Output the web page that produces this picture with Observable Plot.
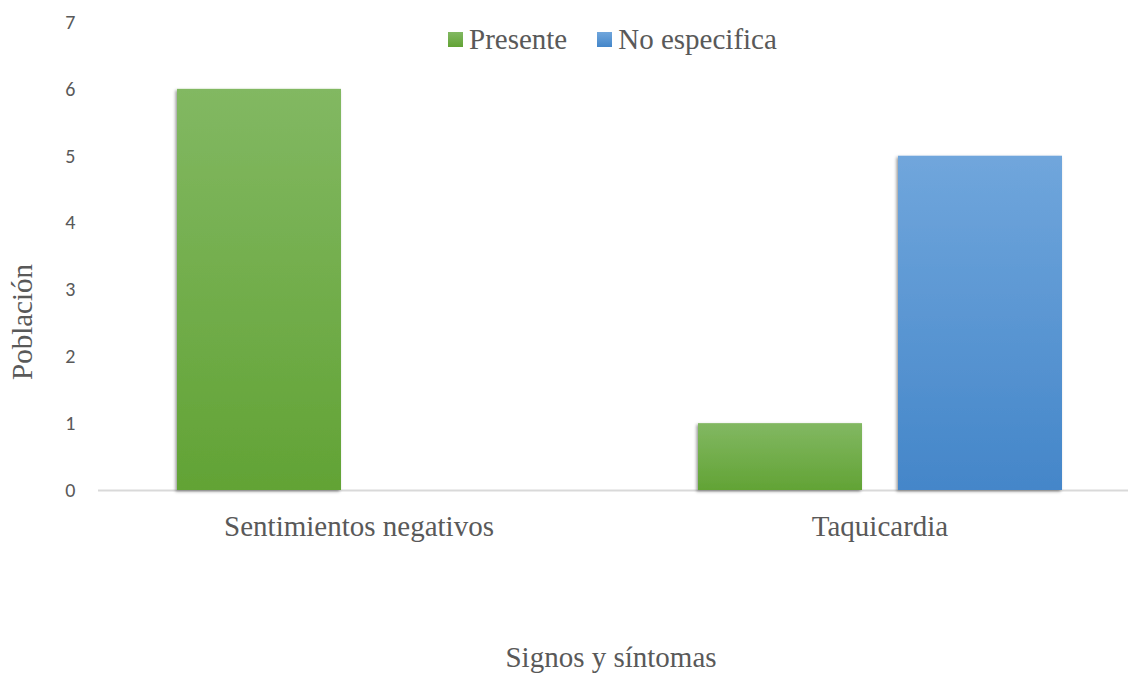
<!DOCTYPE html>
<html>
<head>
<meta charset="utf-8">
<script src="https://cdn.jsdelivr.net/npm/d3@7"></script>
<script src="https://cdn.jsdelivr.net/npm/@observablehq/plot@0.6"></script>
<style>
  body { margin: 0; background: #fff; }
  #wrap { position: relative; width: 1128px; height: 675px; overflow: hidden; background: #fff; }
  .serif { font-family: "Liberation Serif", "Times New Roman", serif; color: #595959; font-size: 29px; line-height: 29px; white-space: nowrap; }
  #legend { position: absolute; left: 448px; top: 25px; display: flex; align-items: center; }
  #legend .sw { width: 15px; height: 15px; margin-right: 6px; }
  #legend .item { display: flex; align-items: center; margin-right: 30px; }
  #ylabel { position: absolute; left: 22px; top: 322px; transform: translate(-50%, -50%) rotate(-90deg); }
  #xlabel { position: absolute; left: 611px; top: 643px; transform: translateX(-50%); }
  svg { position: absolute; left: 0; top: 0; }
</style>
</head>
<body>
<div id="wrap"></div>
<script>
// ---- data ----
const categories = ["Sentimientos negativos", "Taquicardia"];
const series = ["Presente", "No especifica"];
const presente = [6, 1];
const noEspecifica = [0, 5];
const yTicks = [0, 1, 2, 3, 4, 5, 6, 7];
const yLabel = "Población";
const xLabel = "Signos y síntomas";

// ---- styles ----
const gradIds = { "Presente": "gradGreen", "No especifica": "gradBlue" };
const gradStops = {
  gradGreen: ["#82b862", "#62a335"],
  gradBlue: ["#70a6dc", "#4486c9"]
};

const rows = [];
categories.forEach((c, i) => {
  rows.push({ category: c, series: "Presente", value: presente[i] });
  rows.push({ category: c, series: "No especifica", value: noEspecifica[i] });
});

const plot = Plot.plot({
  width: 1128,
  height: 675,
  marginLeft: 97,
  marginRight: 1,
  marginTop: 22,
  marginBottom: 185,
  style: { background: "transparent", color: "#595959", fontFamily: "Carlito, Lato, 'Open Sans', sans-serif", fontSize: "20px" },
  fx: { domain: categories, range: [97.5, 1139.5], padding: 0, label: null },
  x: { domain: series, paddingInner: 0.18, paddingOuter: 0.3925, axis: null },
  y: { domain: [0, 7], label: null },
  marks: [
    Plot.axisY({ ticks: yTicks, tickFormat: "d", tickSize: 0, tickPadding: 23, label: null, fill: "#595959" }),
    Plot.axisFx({ anchor: "bottom", tickSize: 0, tickPadding: 25, label: null, fill: "#595959" }),
    Plot.ruleY([0], { stroke: "#d9d9d9", strokeWidth: 2 }),
    ...series.map(s => Plot.barY(rows.filter(d => d.series === s && d.value > 0), {
      fx: "category", x: "series", y: "value", fill: `url(#${gradIds[s]})`
    }))
  ]
});

// defs: gradients and shadow
const svg = d3.select(plot);
const defs = svg.insert("defs", ":first-child");
for (const [id, [top, bottom]] of Object.entries(gradStops)) {
  const g = defs.append("linearGradient").attr("id", id).attr("x1", 0).attr("y1", 0).attr("x2", 0).attr("y2", 1);
  g.append("stop").attr("offset", "0%").attr("stop-color", top);
  g.append("stop").attr("offset", "100%").attr("stop-color", bottom);
}
const f = defs.append("filter").attr("id", "shadow")
  .attr("filterUnits", "userSpaceOnUse").attr("x", 0).attr("y", 0).attr("width", 1128).attr("height", 675);
f.append("feDropShadow").attr("dx", -1.5).attr("dy", 1.5).attr("stdDeviation", 1.8).attr("flood-color", "#000").attr("flood-opacity", 0.4);
svg.selectAll("rect").filter(function () { return this.closest("g[aria-label='bar']"); }).attr("filter", "url(#shadow)");
svg.selectAll("g[aria-label='fx-axis tick label'] text")
  .style("font-family", "'Liberation Serif', 'Times New Roman', serif").style("font-size", "29px");

const wrap = document.getElementById("wrap");
wrap.appendChild(plot);

// legend
const legend = document.createElement("div");
legend.id = "legend";
legend.className = "serif";
series.forEach(s => {
  const it = document.createElement("div");
  it.className = "item";
  const sw = document.createElement("div");
  sw.className = "sw";
  const [t, b] = gradStops[gradIds[s]];
  sw.style.background = `linear-gradient(${t}, ${b})`;
  const tx = document.createElement("span");
  tx.textContent = s;
  it.appendChild(sw); it.appendChild(tx);
  legend.appendChild(it);
});
wrap.appendChild(legend);

const yl = document.createElement("div");
yl.id = "ylabel"; yl.className = "serif"; yl.textContent = yLabel;
wrap.appendChild(yl);
const xl = document.createElement("div");
xl.id = "xlabel"; xl.className = "serif"; xl.textContent = xLabel;
wrap.appendChild(xl);
</script>
</body>
</html>
